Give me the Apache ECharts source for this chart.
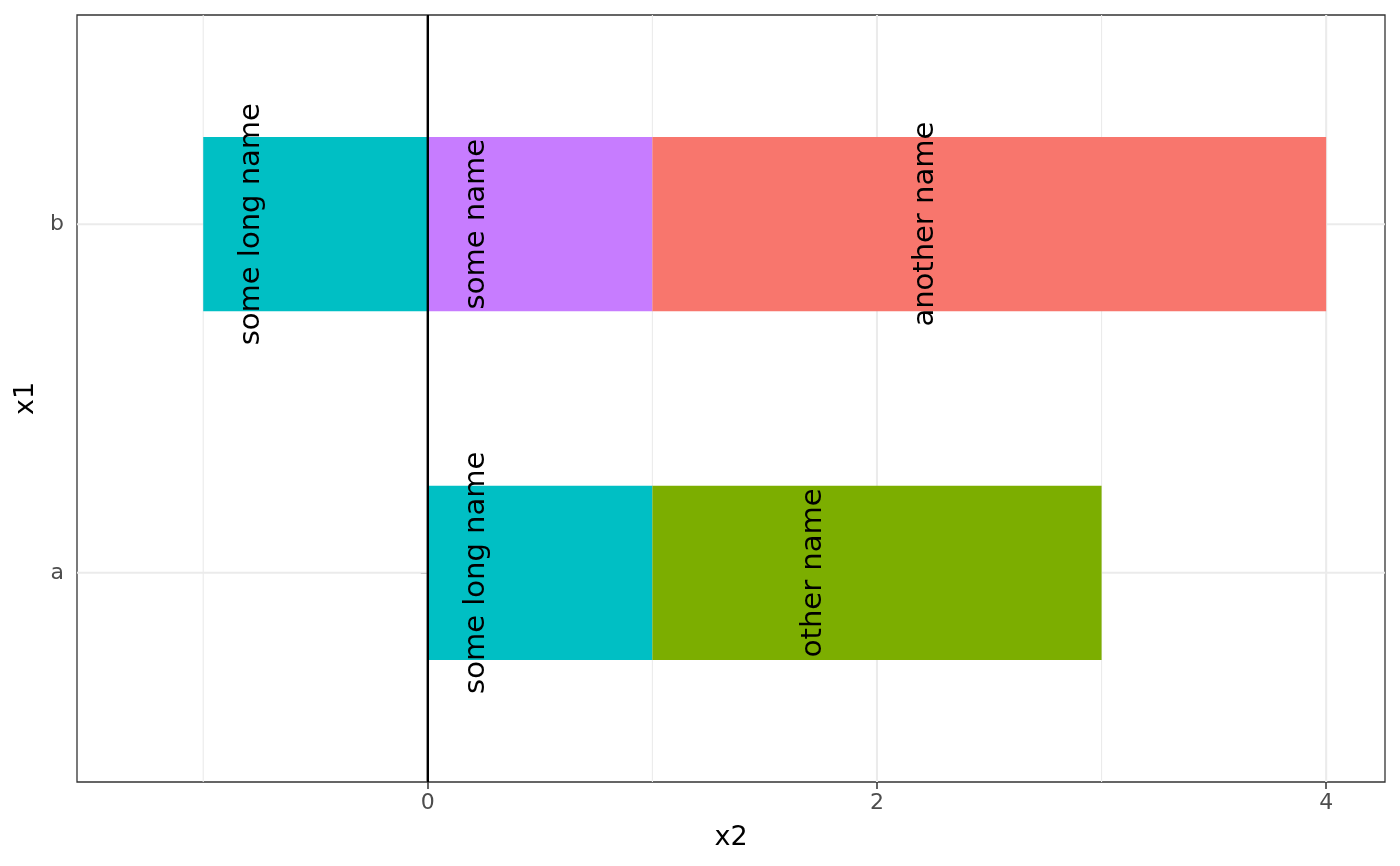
<!DOCTYPE html>
<html>
<head>
<meta charset="utf-8">
<script src="https://cdn.jsdelivr.net/npm/echarts@6/dist/echarts.min.js"></script>
<style>
  html, body { margin: 0; padding: 0; background: #fff; }
  #chart { width: 1400px; height: 866px; }
</style>
</head>
<body>
<div id="chart"></div>
<script>
// categories on the y axis (bottom to top)
var categories = ['a', 'b'];

// one array per fill group, one value per category, in stacking order (nearest to 0 first)
var someName = [0, 1];
var someLongName = [1, -1];
var otherName = [2, 0];
var anotherName = [0, 3];

var groupNames = ['some name', 'some long name', 'other name', 'another name'];
var groupValues = [someName, someLongName, otherName, anotherName];
var groupColors = ['#C77CFF', '#00BFC4', '#7CAE00', '#F8766D'];

// axis ticks
var xMajorTicks = [0, 2, 4];
var xMinorTicks = [-1, 1, 3];
var yTicks = [1, 2];
var vlineAt = [0];

var chart = echarts.init(document.getElementById('chart'));

// stacked rows: [start, end, categoryPosition, groupIndex]
var rows = [];
categories.forEach(function (cat, ci) {
    var pos = 0, neg = 0;
    groupValues.forEach(function (vals, gi) {
        var v = vals[ci];
        if (!v) return;
        var start, end;
        if (v > 0) { start = pos; end = pos + v; pos = end; }
        else { start = neg; end = neg + v; neg = end; }
        rows.push([start, end, ci + 1, gi]);
    });
});

// grid rows: [value, kind] kind 0 = minor x, 1 = major x, 2 = major y
var gridRows = [];
xMinorTicks.forEach(function (v) { gridRows.push([v, 0]); });
xMajorTicks.forEach(function (v) { gridRows.push([v, 1]); });
yTicks.forEach(function (v) { gridRows.push([v, 2]); });

function renderGrid(params, api) {
    var cs = params.coordSys;
    var v = api.value(0);
    var kind = api.value(1);
    var shape, p;
    if (kind === 2) {
        p = api.coord([0, v]);
        shape = { x1: cs.x, y1: p[1], x2: cs.x + cs.width, y2: p[1] };
    } else {
        p = api.coord([v, 1]);
        shape = { x1: p[0], y1: cs.y, x2: p[0], y2: cs.y + cs.height };
    }
    return {
        type: 'line',
        shape: shape,
        style: { stroke: '#EBEBEB', lineWidth: kind === 0 ? 1.1 : 2.1 }
    };
}

function renderVline(params, api) {
    var cs = params.coordSys;
    var p = api.coord([api.value(0), 1]);
    return {
        type: 'line',
        shape: { x1: p[0], y1: cs.y, x2: p[0], y2: cs.y + cs.height },
        style: { stroke: '#000000', lineWidth: 2.4 }
    };
}

function renderBar(params, api) {
    var y = api.value(2);
    var p0 = api.coord([api.value(0), y]);
    var p1 = api.coord([api.value(1), y]);
    var h = api.size([0, 0.5])[1];
    return {
        type: 'rect',
        shape: {
            x: Math.min(p0[0], p1[0]),
            y: p0[1] - h / 2,
            width: Math.abs(p1[0] - p0[0]),
            height: h
        },
        style: { fill: groupColors[api.value(3)] }
    };
}

function renderLabel(params, api) {
    var c = api.coord([(api.value(0) + api.value(1)) / 2, api.value(2)]);
    return {
        type: 'text',
        x: c[0] - 64,
        y: c[1],
        rotation: Math.PI / 2,
        style: {
            text: groupNames[api.value(3)],
            fill: '#000000',
            fontSize: 29,
            fontFamily: 'DejaVu Sans',
            align: 'center',
            verticalAlign: 'middle'
        }
    };
}

var option = {
    animation: false,
    textStyle: { fontFamily: 'DejaVu Sans' },
    grid: {
        left: 77,
        right: 15,
        top: 15,
        bottom: 84,
        show: true,
        borderColor: '#333333',
        borderWidth: 1.3,
        backgroundColor: '#ffffff'
    },
    xAxis: {
        type: 'value',
        min: -1.562,
        max: 4.262,
        name: 'x2',
        nameLocation: 'middle',
        nameGap: 42,
        nameTextStyle: { color: '#000000', fontSize: 27 },
        axisLine: { show: false },
        axisTick: {
            show: true,
            customValues: xMajorTicks,
            length: 7,
            lineStyle: { color: '#333333', width: 1.5 }
        },
        axisLabel: {
            customValues: xMajorTicks,
            color: '#4D4D4D',
            fontSize: 22,
            margin: 10
        },
        splitLine: { show: false }
    },
    yAxis: {
        type: 'value',
        min: 0.4,
        max: 2.6,
        name: 'x1',
        nameLocation: 'middle',
        nameGap: 38,
        nameTextStyle: { color: '#000000', fontSize: 27 },
        axisLine: { show: false },
        axisTick: {
            show: true,
            customValues: yTicks,
            length: 7,
            lineStyle: { color: '#333333', width: 1.5 }
        },
        axisLabel: {
            customValues: yTicks,
            color: '#4D4D4D',
            fontSize: 22,
            margin: 13,
            formatter: function (v) { return categories[v - 1]; }
        },
        splitLine: { show: false }
    },
    series: [
        {
            name: 'grid',
            type: 'custom',
            z: 1,
            silent: true,
            data: gridRows,
            renderItem: renderGrid
        },
        {
            name: 'bars',
            type: 'custom',
            z: 2,
            data: rows,
            encode: { x: [0, 1], y: 2 },
            renderItem: renderBar
        },
        {
            name: 'vline',
            type: 'custom',
            z: 3,
            silent: true,
            data: vlineAt.map(function (v) { return [v]; }),
            renderItem: renderVline
        },
        {
            name: 'labels',
            type: 'custom',
            z: 4,
            data: rows,
            encode: { x: [0, 1], y: 2 },
            renderItem: renderLabel
        }
    ]
};

chart.setOption(option);
</script>
</body>
</html>
